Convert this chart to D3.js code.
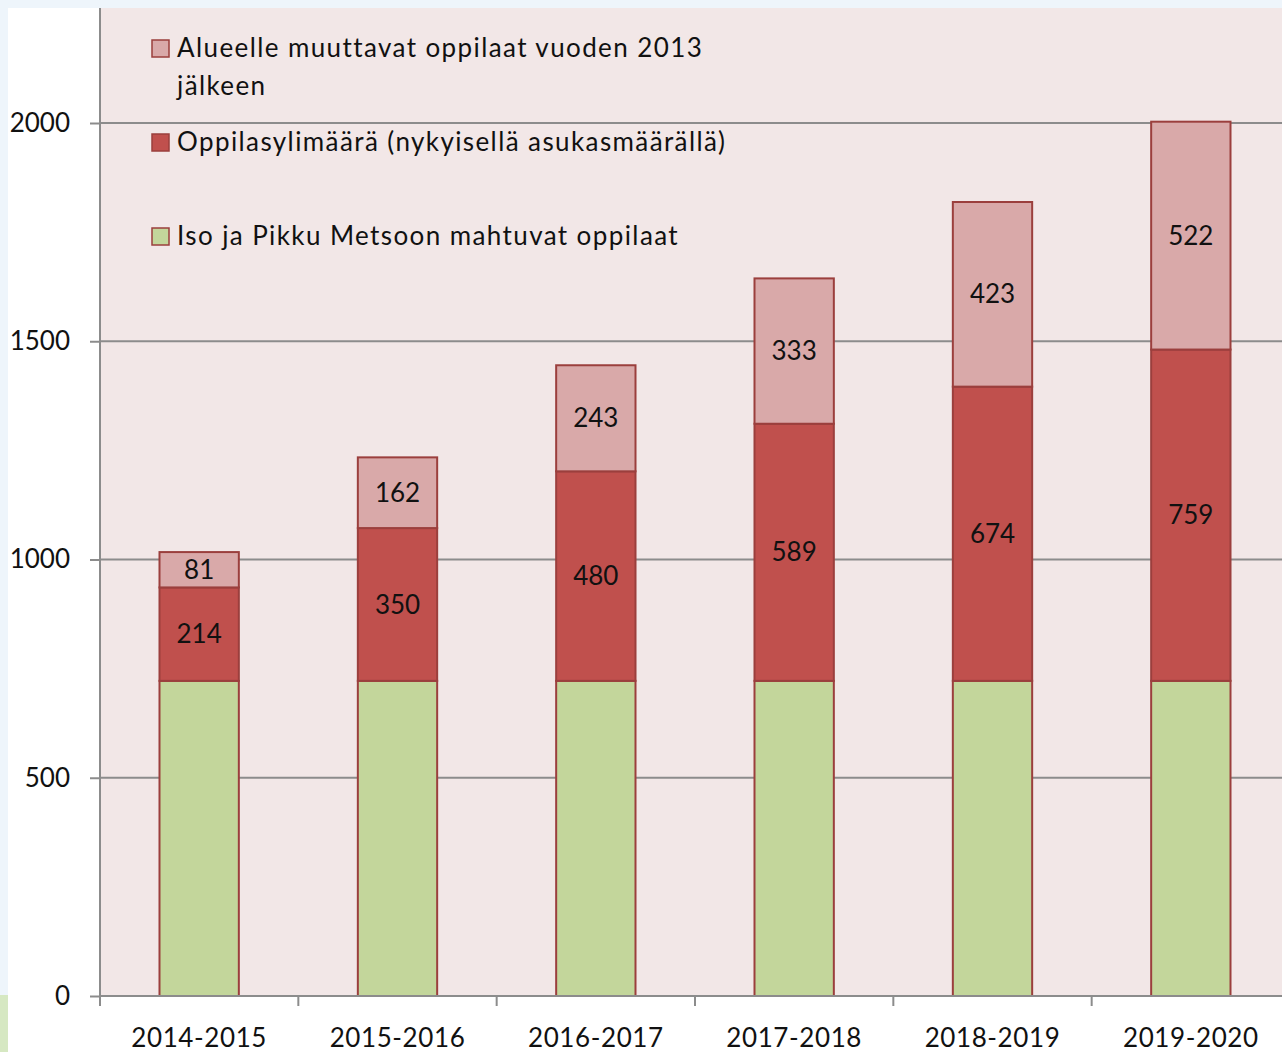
<!DOCTYPE html>
<html lang="fi">
<head>
<meta charset="UTF-8">
<title>Oppilasmäärät</title>
<style>
	body { margin: 0; background: #eef5fb; }
	svg { display: block; font-family: Lato, "Open Sans", sans-serif; }
</style>
</head>
<body>
<svg id="chart" width="1282" height="1052"></svg>
<script src="https://cdn.jsdelivr.net/npm/d3@7"></script>
<script>
	// data
	let categories = ["2014-2015", "2015-2016", "2016-2017", "2017-2018", "2018-2019", "2019-2020"]
	let mahtuvat = [722, 722, 722, 722, 722, 722]
	let ylimaara = [214, 350, 480, 589, 674, 759]
	let muuttavat = [81, 162, 243, 333, 423, 522]
	let yTicks = [0, 500, 1000, 1500, 2000]
	let seriesNames = ["Alueelle muuttavat oppilaat vuoden 2013 jälkeen", "Oppilasylimäärä (nykyisellä asukasmäärällä)", "Iso ja Pikku Metsoon mahtuvat oppilaat"]

	let svg = d3.select("#chart")

	// white panel + small decorative strip
	svg.append("rect").attr("x", 8).attr("y", 8).attr("width", 1274).attr("height", 1044).attr("fill", "white")
	svg.append("rect").attr("x", 0).attr("y", 995).attr("width", 8).attr("height", 57).attr("fill", "#d6e8c2")

	let y = d3.scaleLinear().domain([0, 2000]).range([996, 123])
	let x = d3.scaleBand().domain(categories).range([100, 1290]).paddingInner(0.6).paddingOuter(0.3)

	// plot background
	svg.append("rect")
		.attr("x", 100).attr("y", 8)
		.attr("width", 1182).attr("height", y(0) - 8)
		.attr("fill", "#f2e7e7")

	// gridlines
	svg.selectAll(".grid")
		.data(yTicks.filter(d => d > 0))
		.enter().append("line")
		.attr("x1", 100).attr("x2", 1282)
		.attr("y1", d => y(d)).attr("y2", d => y(d))
		.attr("stroke", "#8c8c8c").attr("stroke-width", 2)

	// stacked bars
	let rows = categories.map((c, i) => ({cat: c, a: mahtuvat[i], b: ylimaara[i], c: muuttavat[i]}))
	let stack = d3.stack().keys(["a", "b", "c"])(rows)
	let colors = {a: "#c3d69b", b: "#c0504d", c: "#d9a9a9"}

	let layers = svg.selectAll(".layer")
		.data(stack)
		.enter().append("g")
		.attr("fill", d => colors[d.key])

	layers.selectAll("rect")
		.data(d => d)
		.enter().append("rect")
		.attr("x", d => x(d.data.cat))
		.attr("y", d => y(d[1]))
		.attr("width", x.bandwidth())
		.attr("height", d => y(d[0]) - y(d[1]))
		.attr("stroke", "#9b3f3d")
		.attr("stroke-width", 2)

	// value labels for red and pink segments
	stack.filter(s => s.key != "a").forEach(s => {
		svg.selectAll(".lbl-" + s.key)
			.data(s)
			.enter().append("text")
			.attr("x", d => x(d.data.cat) + x.bandwidth() / 2)
			.attr("y", d => (y(d[0]) + y(d[1])) / 2)
			.attr("dy", "0.35em")
			.attr("text-anchor", "middle")
			.attr("font-size", 26)
			.attr("fill", "#111")
			.text(d => d[1] - d[0])
	})

	// y axis
	let yAxis = svg.append("g")
		.attr("transform", "translate(100,0)")
		.call(d3.axisLeft(y).tickValues(yTicks).tickFormat(d3.format("d")).tickSize(10).tickPadding(20))
	yAxis.select(".domain").remove()
	yAxis.selectAll("line").attr("stroke", "#8c8c8c").attr("stroke-width", 2)
	yAxis.selectAll("text").attr("font-size", 26).attr("fill", "#111").attr("font-family", "Lato, sans-serif")
	svg.append("line")
		.attr("x1", 100).attr("x2", 100).attr("y1", 8).attr("y2", y(0) + 10)
		.attr("stroke", "#8c8c8c").attr("stroke-width", 2)

	// x axis
	svg.append("line")
		.attr("x1", 100).attr("x2", 1282).attr("y1", y(0)).attr("y2", y(0))
		.attr("stroke", "#8c8c8c").attr("stroke-width", 2)
	let step = x.step()
	svg.selectAll(".xtick")
		.data(categories)
		.enter().append("line")
		.attr("x1", d => x(d) + x.bandwidth() / 2 - step / 2)
		.attr("x2", d => x(d) + x.bandwidth() / 2 - step / 2)
		.attr("y1", y(0)).attr("y2", y(0) + 10)
		.attr("stroke", "#8c8c8c").attr("stroke-width", 2)
	svg.selectAll(".xlabel")
		.data(categories)
		.enter().append("text")
		.attr("x", d => x(d) + x.bandwidth() / 2)
		.attr("y", 1047)
		.attr("text-anchor", "middle")
		.attr("font-size", 26)
		.attr("letter-spacing", 0.6)
		.attr("fill", "#111")
		.text(d => d)

	// legend
	let legend = [
		{name: seriesNames[0], color: colors.c, y: 48},
		{name: seriesNames[1], color: colors.b, y: 142},
		{name: seriesNames[2], color: colors.a, y: 236}
	]
	let lg = svg.selectAll(".legend")
		.data(legend)
		.enter().append("g")
	lg.append("rect")
		.attr("x", 152).attr("y", d => d.y - 8)
		.attr("width", 17).attr("height", 17)
		.attr("fill", d => d.color)
		.attr("stroke", "#9b3f3d").attr("stroke-width", 1.5)
	let lt = lg.append("text")
		.attr("x", 177).attr("y", d => d.y)
		.attr("dy", "0.35em")
		.attr("font-size", 26)
		.attr("letter-spacing", 1.4)
		.attr("fill", "#111")
	lt.each(function(d, i) {
		let t = d3.select(this)
		if (i == 0) {
			t.append("tspan").attr("x", 177).text("Alueelle muuttavat oppilaat vuoden 2013")
			t.append("tspan").attr("x", 177).attr("dy", 38).text("jälkeen")
		} else {
			t.text(d.name)
		}
	})
</script>
</body>
</html>
